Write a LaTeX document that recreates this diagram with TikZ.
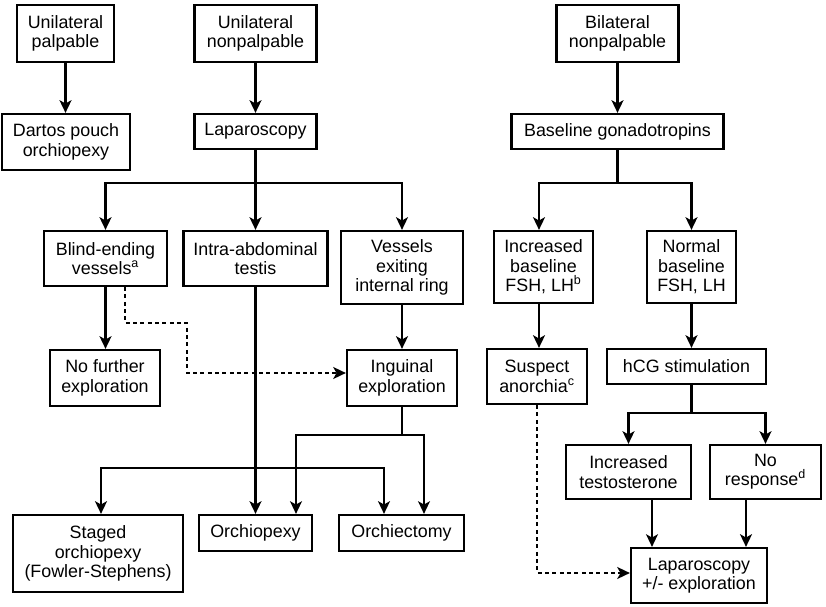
\documentclass[tikz,border=0pt]{standalone}
\usepackage{fontspec}
\setmainfont{Liberation Sans}
\usetikzlibrary{arrows.meta}

\tikzset{every picture/.style={line width=0.75pt}}
\tikzset{
  box/.style={draw, line width=1.7pt, align=center, inner sep=0pt,
    font=\fontsize{13.4}{14.5}\selectfont},
  arr/.style={line width=1.6pt, -{Stealth[length=9.5pt,width=9pt,inset=2.5pt]}},
  thinarr/.style={line width=0.9pt, -{Stealth[length=9.5pt,width=9pt,inset=2.5pt]}},
  dasharr/.style={line width=1.5pt, dash pattern=on 3pt off 2.5pt,
    -{Stealth[length=9.5pt,width=9pt,inset=2.5pt]}},
}

\begin{document}
\begin{tikzpicture}[x=0.75pt,y=0.75pt,yscale=-1,xscale=1]
	\useasboundingbox (0,0) rectangle (826,607); %diagram is 826 x 607

	% Text Node: first row
	\node [box, minimum width=72.75pt, minimum height=42.75pt] (upalp) at (65.5,33.5) {Unilateral\\palpable};
	\node [box, minimum width=91.5pt, minimum height=42.75pt] (unonp) at (255.5,33.5) {Unilateral\\nonpalpable};
	\node [box, minimum width=91.5pt, minimum height=42.75pt] (bnonp) at (617.5,33.5) {Bilateral\\nonpalpable};
	% Text Node: second row
	\node [box, minimum width=96pt, minimum height=42pt] (dartos) at (66,142) {Dartos pouch\\orchiopexy};
	\node [box, minimum width=91.5pt, minimum height=26.25pt] (lap) at (255.5,131.5) {Laparoscopy};
	\node [box, minimum width=159pt, minimum height=26.25pt] (basegon) at (617.5,131.5) {Baseline gonadotropins};
	% Text Node: third row
	\node [box, minimum width=92.25pt, minimum height=41.25pt] (blind) at (105.5,258.5) {Blind-ending\\vessels\textsuperscript{a}};
	\node [box, minimum width=108pt, minimum height=41.25pt] (intra) at (255.5,258.5) {Intra-abdominal\\testis};
	\node [box, minimum width=91.5pt, minimum height=54.75pt] (vessels) at (402,267.5) {Vessels\\exiting\\internal ring};
	\node [box, minimum width=74.25pt, minimum height=54pt] (incbase) at (543.5,267) {Increased\\baseline\\FSH, LH\textsuperscript{b}};
	\node [box, minimum width=66.75pt, minimum height=54pt] (normbase) at (691.5,267) {Normal\\baseline\\FSH, LH};
	% Text Node: fourth row
	\node [box, minimum width=82.5pt, minimum height=42pt] (nofurther) at (105,378) {No further\\exploration};
	\node [box, minimum width=82.5pt, minimum height=42pt] (inguinal) at (402,378) {Inguinal\\exploration};
	\node [box, minimum width=75pt, minimum height=41.25pt] (suspect) at (537,376.5) {Suspect\\anorchia\textsuperscript{c}};
	\node [box, minimum width=119.25pt, minimum height=26.25pt] (hcg) at (686.5,366.5) {hCG stimulation};
	% Text Node: fifth row
	\node [box, minimum width=93.75pt, minimum height=40.5pt] (inctest) at (628.5,472) {Increased\\testosterone};
	\node [box, minimum width=83.25pt, minimum height=40.5pt] (noresp) at (765.5,472) {No\\response\textsuperscript{d}};
	% Text Node: last row
	\node [box, minimum width=127.5pt, minimum height=57.75pt] (staged) at (98,553.5) {Staged\\orchiopexy\\(Fowler-Stephens)};
	\node [box, minimum width=84.75pt, minimum height=27pt] (orchpexy) at (255.5,533) {Orchiopexy};
	\node [box, minimum width=93.75pt, minimum height=27pt] (orchtomy) at (401.5,533) {Orchiectomy};
	\node [box, minimum width=102pt, minimum height=41.25pt] (lapexp) at (699,575.5) {Laparoscopy\\+/- exploration};

	% junctions and guides
	\coordinate (jlap) at (255.5,183);
	\coordinate (jbase) at (617.5,183);
	\coordinate (jhcg) at (691.5,413);
	\coordinate (jintra) at (255.5,468);
	\coordinate (jing) at (402,435);
	\coordinate (dbl1) at (125,323);
	\coordinate (dbl2) at (187,373);
	\coordinate (dsus) at (537,573);
	\coordinate (xinc) at (539,0);
	\coordinate (xtest) at (652,0);
	\coordinate (xnor) at (746,0);
	\coordinate (xstg) at (101,0);
	\coordinate (xtom) at (384,0);
	\coordinate (xpex2) at (296,0);
	\coordinate (xtom2) at (424,0);

	%Straight Lines: left branch
	\draw [arr] (upalp.south) -- (upalp.south |- dartos.north);
	%Straight Lines: unilateral nonpalpable
	\draw [arr] (unonp) -- (lap);
	\draw [line width=1.6pt] (lap) -- (jlap);
	\draw [arr] (jlap) -| (blind);
	\draw [arr] (jlap) -- (intra);
	\draw [arr] (jlap) -| (vessels);
	\draw [arr] (blind.south) -- (blind.south |- nofurther.north);
	\draw [dasharr] (blind.south -| dbl1) -- (dbl1) -| (dbl2) -- (dbl2 -| inguinal.west);
	\draw [arr] (vessels) -- (inguinal);
	\draw [arr] (intra) -- (orchpexy);
	\draw [arr] (jintra) -| (staged.north -| xstg);
	\draw [arr] (jintra) -| (orchtomy.north -| xtom);
	\draw [line width=1.3pt] (inguinal) -- (jing);
	\draw [thinarr] (jing) -| (orchpexy.north -| xpex2);
	\draw [thinarr] (jing) -| (orchtomy.north -| xtom2);

	%Straight Lines: bilateral nonpalpable
	\draw [arr] (bnonp) -- (basegon);
	\draw [line width=1.6pt] (basegon) -- (jbase);
	\draw [arr] (jbase) -| (incbase.north -| xinc);
	\draw [arr] (jbase) -| (normbase);
	\draw [arr] (incbase.south -| xinc) -- (suspect.north -| xinc);
	\draw [arr] (normbase) -- (normbase |- hcg.north);
	\draw [line width=1.6pt] (hcg.south -| jhcg) -- (jhcg);
	\draw [arr] (jhcg) -| (inctest);
	\draw [arr] (jhcg) -| (noresp);
	\draw [thinarr] (inctest.south -| xtest) -- (lapexp.north -| xtest);
	\draw [arr] (noresp.south -| xnor) -- (lapexp.north -| xnor);
	\draw [dasharr] (suspect.south -| dsus) -- (dsus) -- (dsus -| lapexp.west);

\end{tikzpicture}
\end{document}
